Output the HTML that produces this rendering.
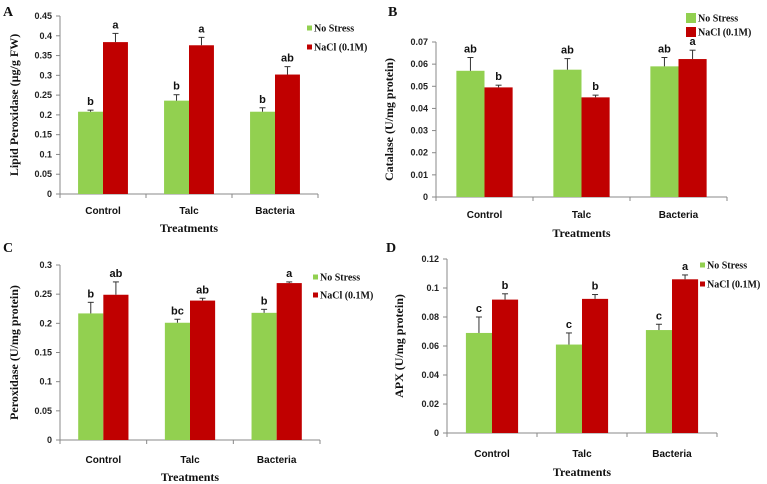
<!DOCTYPE html>
<html><head><meta charset="utf-8"><style>
html,body{margin:0;padding:0;background:#fff;}
svg{display:block;}
.tk{font-family:"Liberation Sans",sans-serif;font-weight:bold;font-size:9px;fill:#222;}
.cat{font-family:"Liberation Sans",sans-serif;font-weight:bold;font-size:10px;fill:#111;}
.ttl{font-family:"Liberation Serif",serif;font-weight:bold;font-size:12px;fill:#111;}
.lg{font-family:"Liberation Serif",serif;font-weight:bold;font-size:10px;fill:#111;}
.sig{font-family:"Liberation Sans",sans-serif;font-weight:bold;font-size:11px;fill:#111;}
.pl{font-family:"Liberation Serif",serif;font-weight:bold;font-size:14px;fill:#111;}
</style></head><body>
<svg id="fig" width="767" height="484" viewBox="0 0 767 484" xmlns="http://www.w3.org/2000/svg"></svg>
<script>
const categories = ["Control","Talc","Bacteria"];
const seriesNames = ["No Stress","NaCl (0.1M)"];
const aNo = [0.208,0.236,0.208], aNoErr = [0.004,0.015,0.010];
const aNa = [0.384,0.376,0.302], aNaErr = [0.022,0.020,0.020];
const aNoSig = ["b","b","b"], aNaSig = ["a","a","ab"];
const aTicks = ["0","0.05","0.1","0.15","0.2","0.25","0.3","0.35","0.4","0.45"];
const bNo = [0.057,0.0575,0.059], bNoErr = [0.006,0.005,0.004];
const bNa = [0.0495,0.045,0.0623], bNaErr = [0.001,0.001,0.004];
const bNoSig = ["ab","ab","ab"], bNaSig = ["b","b","a"];
const bTicks = ["0","0.01","0.02","0.03","0.04","0.05","0.06","0.07"];
const cNo = [0.217,0.201,0.218], cNoErr = [0.019,0.006,0.006];
const cNa = [0.249,0.239,0.269], cNaErr = [0.022,0.004,0.002];
const cNoSig = ["b","bc","b"], cNaSig = ["ab","ab","a"];
const cTicks = ["0","0.05","0.1","0.15","0.2","0.25","0.3"];
const dNo = [0.069,0.061,0.071], dNoErr = [0.011,0.008,0.004];
const dNa = [0.092,0.0925,0.106], dNaErr = [0.004,0.003,0.003];
const dNoSig = ["c","c","c"], dNaSig = ["b","b","a"];
const dTicks = ["0","0.02","0.04","0.06","0.08","0.1","0.12"];

const NS="http://www.w3.org/2000/svg";
const svg=document.getElementById('fig');
function mk(tag,attrs,parent,text){const e=document.createElementNS(NS,tag);for(const k in attrs)e.setAttribute(k,attrs[k]);if(text!==undefined)e.textContent=text;(parent||svg).appendChild(e);return e;}

function panel(cfg){
  const g=mk('g',{});
  
  
  const max=parseFloat(cfg.ticks[cfg.ticks.length-1]);
  const y=v=>cfg.y0-(v/max)*(cfg.y0-cfg.y1);
  const step=(cfg.x1-cfg.x0)/categories.length;
  const bw=step*0.29;
  const cx=i=>cfg.x0+step*(i+0.5);
  // axes
  const ya=mk('line',{x1:cfg.x0,y1:cfg.y1,x2:cfg.x0,y2:cfg.y0,stroke:'#888','stroke-width':1},g);
  
  const xa=mk('line',{x1:cfg.x0,y1:cfg.y0,x2:cfg.x1,y2:cfg.y0,stroke:'#888','stroke-width':1},g);
  
  cfg.ticks.forEach(t=>{const v=parseFloat(t);const yy=y(v);
    mk('line',{x1:cfg.x0-4,y1:yy,x2:cfg.x0,y2:yy,stroke:'#888'},g);
    const tl=mk('text',{x:cfg.x0-8,y:yy+3,'text-anchor':'end',class:'tk'},g,t);
    });
  for(let i=0;i<=categories.length;i++){const xx=cfg.x0+step*i;mk('line',{x1:xx,y1:cfg.y0,x2:xx,y2:cfg.y0+4,stroke:'#888'},g);}
  const series=[[cfg.no,cfg.noErr,cfg.noSig,'#92d050'],[cfg.na,cfg.naErr,cfg.naSig,'#c00000']];
  categories.forEach((c,i)=>{
    series.forEach((s,k)=>{
      const v=s[0][i],e=s[1][i];
      const bx=cx(i)-bw+k*bw;
      const r=mk('rect',{x:bx,y:y(v),width:bw,height:cfg.y0-y(v),fill:s[3]},g);
      
      
      const mx=bx+bw/2, te=y(v+e);
      mk('line',{x1:mx,y1:y(v),x2:mx,y2:te,stroke:'#333','stroke-width':1},g);
      mk('line',{x1:mx-3,y1:te,x2:mx+3,y2:te,stroke:'#333','stroke-width':1},g);
      const sl=mk('text',{x:mx,y:te-5,'text-anchor':'middle',class:'sig'},g,s[2][i]);
      
    });
    const cl=mk('text',{x:cx(i),y:cfg.catY,'text-anchor':'middle',class:'cat'},g,c);
    
  });
  const xt=mk('text',{x:(cfg.x0+cfg.x1)/2,y:cfg.xtY,'text-anchor':'middle',class:'ttl'},g,'Treatments');
  
  const yt=mk('text',{x:0,y:0,'text-anchor':'middle',class:'ttl',transform:`translate(${cfg.ytX},${(cfg.y0+cfg.y1)/2}) rotate(-90)`},g,cfg.ytitle);
  
  const pl=mk('text',{x:cfg.lx,y:cfg.ly,class:'pl'},g,cfg.letter);
  
  seriesNames.forEach((n,k)=>{
    const le=mk('g',{},g);
    
    const yy=cfg.legY[k];
    mk('rect',{x:cfg.legX,y:yy-cfg.sq/2,width:cfg.sq,height:cfg.sq,fill:k?'#c00000':'#92d050'},le);
    mk('text',{x:cfg.legX+cfg.sq+2,y:yy+3.5,class:'lg'},le,n);
  });
}
panel({letter:'A',lx:3,ly:16,x0:60,x1:318,y0:194,y1:16,ticks:aTicks,no:aNo,noErr:aNoErr,na:aNa,naErr:aNaErr,noSig:aNoSig,naSig:aNaSig,catY:214,xtY:232,ytX:18,ytitle:'Lipid Peroxidase (µg/g FW)',legX:307,legY:[28,47],sq:5});
panel({letter:'B',lx:388,ly:16,x0:436,x1:727,y0:197,y1:42,ticks:bTicks,no:bNo,noErr:bNoErr,na:bNa,naErr:bNaErr,noSig:bNoSig,naSig:bNaSig,catY:218,xtY:237,ytX:393,ytitle:'Catalase (U/mg protein)',legX:686,legY:[18,32],sq:10});
panel({letter:'C',lx:3,ly:252,x0:60,x1:320,y0:440,y1:265,ticks:cTicks,no:cNo,noErr:cNoErr,na:cNa,naErr:cNaErr,noSig:cNoSig,naSig:cNaSig,catY:463,xtY:481,ytX:18,ytitle:'Peroxidase (U/mg protein)',legX:313,legY:[277,295],sq:5});
panel({letter:'D',lx:386,ly:252,x0:447,x1:717,y0:433,y1:259,ticks:dTicks,no:dNo,noErr:dNoErr,na:dNa,naErr:dNaErr,noSig:dNoSig,naSig:dNaSig,catY:457,xtY:476,ytX:403,ytitle:'APX (U/mg protein)',legX:700,legY:[265,284],sq:5});
</script>
</body></html>
